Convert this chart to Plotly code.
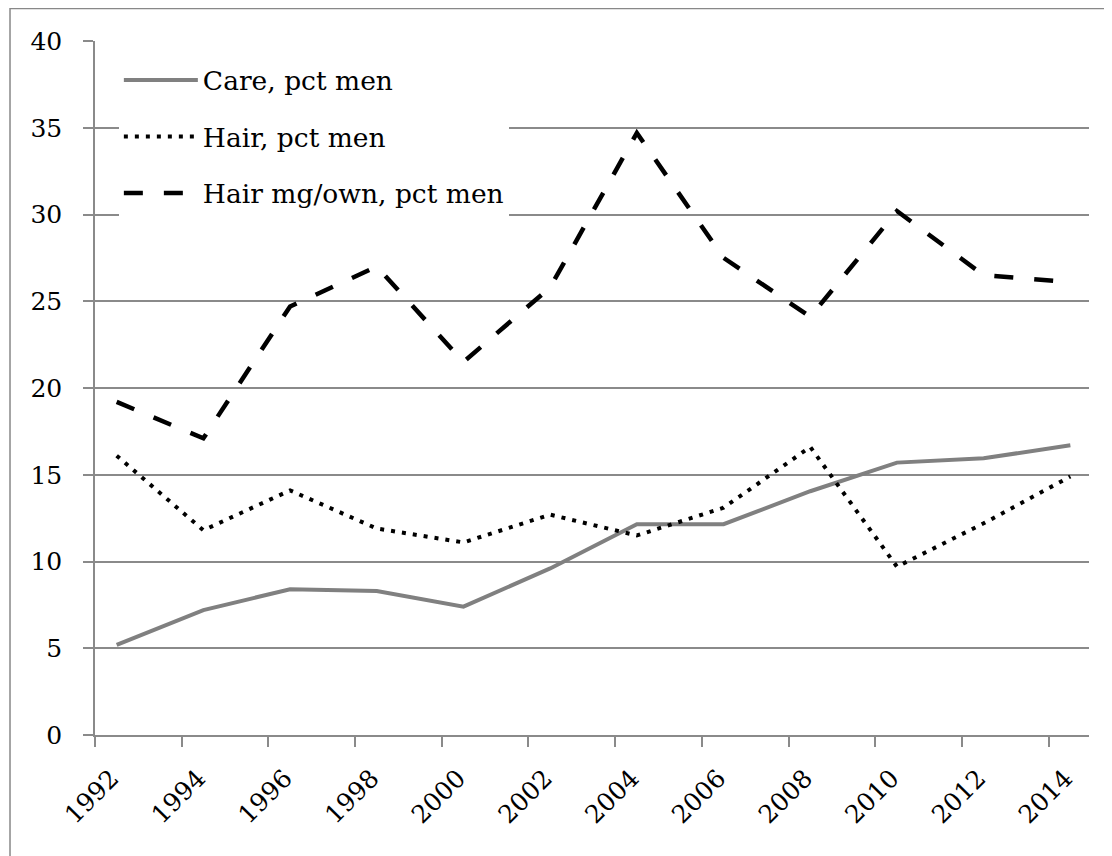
import plotly.graph_objects as go

years = [1992, 1994, 1996, 1998, 2000, 2002, 2004, 2006, 2008, 2010, 2012, 2014]
year_labels = [str(y) for y in years]
care_pct_men = [5.2, 7.2, 8.4, 8.3, 7.4, 9.6, 12.15, 12.15, 14.05, 15.7, 15.95, 16.7]
hair_pct_men = [16.1, 11.8, 14.1, 11.9, 11.1, 12.7, 11.5, 13.1, 16.6, 9.7, 12.2, 14.9]
hair_mg_own_pct_men = [19.2, 17.1, 24.7, 27.0, 21.5, 25.8, 34.7, 27.5, 24.1, 30.2, 26.5, 26.1]

FONT = "DejaVu Serif"
GRID = "#8a8a8a"

fig = go.Figure()
fig.add_trace(go.Scatter(x=years, y=care_pct_men, name="Care, pct men", mode="lines",
                         line=dict(color="#808080", width=4), legendgroup="a"))
fig.add_trace(go.Scatter(x=years, y=hair_pct_men, name="Hair, pct men", mode="lines",
                         line=dict(color="black", width=4, dash="4px,7px"), legendgroup="b"))
fig.add_trace(go.Scatter(x=years, y=hair_mg_own_pct_men, name="Hair mg/own, pct men", mode="lines",
                         line=dict(color="black", width=4.5, dash="19px,21px"), legendgroup="c"))

fig.update_layout(
    width=1112, height=856,
    margin=dict(l=87, r=31, t=33, b=129),
    paper_bgcolor="white", plot_bgcolor="white",
    font=dict(family=FONT, size=25, color="black"),
    showlegend=True,
    legend=dict(x=0.024, y=0.978, xanchor="left", yanchor="top",
                bgcolor="white", borderwidth=0, tracegroupgap=19, itemwidth=74,
                font=dict(family=FONT, size=26.5, color="black")),
    shapes=[dict(type="rect", xref="paper", yref="paper",
                 x0=-0.0855, x1=1.5, y0=-0.6, y1=1.047,
                 line=dict(color="#888888", width=1.5), fillcolor="rgba(0,0,0,0)", layer="below")],
)

fig.update_xaxes(
    range=[years[0] - 0.5, years[-1] + 0.43],
    tickmode="array", tickvals=[y - 0.12 for y in years], ticktext=year_labels,
    tickangle=-45, ticks="", showgrid=False,
    showline=True, linecolor=GRID, linewidth=1.5,
    ticklabelstandoff=17,
    minor=dict(tickmode="array", tickvals=[y - 0.5 for y in years], ticks="outside",
               ticklen=10, tickcolor=GRID, tickwidth=1.5, showgrid=False),
    zeroline=False,
)
fig.update_yaxes(
    range=[0, 40], tickmode="linear", tick0=0, dtick=5,
    ticks="outside", ticklen=10, tickcolor=GRID, tickwidth=1.5,
    showgrid=True, gridcolor=GRID, gridwidth=1.5,
    showline=True, linecolor=GRID, linewidth=1.5,
    ticklabelstandoff=16, zeroline=False,
)

fig.write_html("out.html")
